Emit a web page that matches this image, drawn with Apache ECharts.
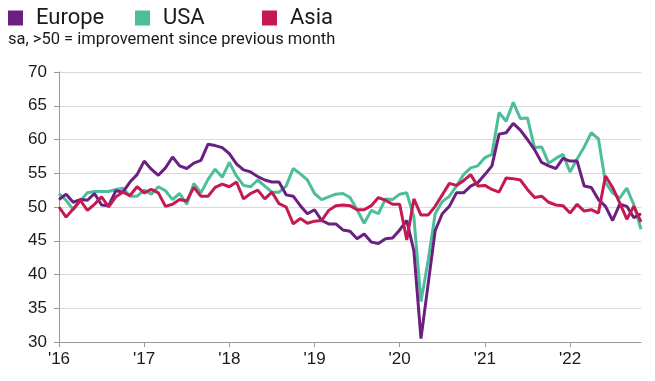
<!DOCTYPE html>
<html>
<head>
<meta charset="utf-8">
<script src="https://cdn.jsdelivr.net/npm/echarts@6/dist/echarts.min.js"></script>
<style>
html,body{margin:0;padding:0;background:#fff;}
#c{width:655px;height:381px;}
</style>
</head>
<body>
<div id="c"></div>
<script>
// Months Jan 2016 .. Nov 2022
var months = [];
for (var y = 2016; y <= 2022; y++) {
  for (var m = 1; m <= 12; m++) {
    if (y === 2022 && m > 11) break;
    months.push(y + '-' + (m < 10 ? '0' + m : m));
  }
}
var yearLabels = ["'16", "'17", "'18", "'19", "'20", "'21", "'22"];

var europe = [
  51.1, 51.9, 50.7, 51.1, 51.0, 52.0, 50.3, 50.2, 52.4, 52.2, 53.7, 54.8,
  56.8, 55.6, 54.7, 55.8, 57.4, 56.1, 55.7, 56.5, 56.9, 59.3, 59.1, 58.8,
  57.9, 56.4, 55.5, 55.2, 54.5, 54.0, 53.7, 53.7, 51.8, 51.6, 50.2, 49.0,
  49.6, 48.0, 47.5, 47.5, 46.6, 46.4, 45.3, 46.0, 44.8, 44.6, 45.3, 45.4,
  46.6, 48.0, 43.5, 30.5, 38.5, 46.5, 49.0, 50.1, 52.1, 52.1, 53.1, 53.6,
  54.8, 56.1, 60.8, 61.0, 62.4, 61.4, 60.0, 58.5, 56.6, 56.1, 55.7, 57.2,
  56.8, 56.8, 53.1, 52.9, 51.1, 50.1, 48.0, 50.4, 50.1, 48.4, 49.0
];
var usa = [
  52.0, 51.0, 49.6, 50.9, 52.1, 52.3, 52.3, 52.3, 52.6, 52.8, 51.6, 51.6,
  52.5, 51.9, 53.0, 52.4, 51.1, 52.0, 50.4, 53.5, 52.1, 54.1, 55.6, 54.4,
  56.6, 54.6, 53.2, 53.0, 54.0, 53.1, 52.2, 52.2, 53.1, 55.7, 54.9, 54.0,
  52.0, 51.1, 51.5, 51.9, 52.0, 51.4, 49.6, 47.6, 49.5, 49.0, 51.2, 51.1,
  51.9, 52.1, 48.5, 36.0, 42.0, 49.0, 50.8, 51.6, 53.1, 54.8, 55.8, 56.1,
  57.3, 57.8, 64.0, 62.7, 65.5, 63.1, 63.2, 58.8, 58.9, 56.5, 57.2, 57.8,
  55.2, 57.1, 58.9, 61.0, 60.1, 53.6, 52.1, 51.3, 52.8, 50.3, 46.7
];
var asia = [
  50.0, 48.5, 49.7, 51.0, 49.5, 50.4, 51.5, 50.0, 51.5, 52.2, 51.7, 53.0,
  52.1, 52.6, 52.1, 50.1, 50.4, 51.1, 50.9, 52.9, 51.6, 51.6, 52.9, 53.4,
  53.0, 53.7, 51.2, 52.0, 52.5, 51.2, 52.2, 50.5, 50.0, 47.5, 48.3, 47.6,
  47.9, 48.0, 49.5, 50.2, 50.3, 50.2, 49.6, 49.6, 50.2, 51.4, 51.0, 50.4,
  50.4, 45.1, 51.2, 48.8, 48.8, 50.1, 51.8, 53.5, 53.2, 53.9, 54.8, 53.1,
  53.2, 52.6, 52.2, 54.3, 54.2, 54.0, 52.6, 51.4, 51.6, 50.7, 50.3, 50.2,
  49.1, 50.4, 49.4, 49.6, 49.1, 54.6, 52.9, 50.6, 48.2, 50.1, 47.8
];

var cEurope = '#6b1f80';
var cUsa = '#4dbd9b';
var cAsia = '#c51a50';

function isJan(i) { return i % 12 === 0; }

var chart = echarts.init(document.getElementById('c'), null, {renderer: 'canvas'});
function legendItem(name, left) {
  return {
    data: [name], left: left, top: 7, orient: 'horizontal',
    icon: 'rect', itemWidth: 15, itemHeight: 15, padding: 0,
    textStyle: { fontFamily: 'Roboto', fontSize: 22, color: '#1a1a1a', padding: [0, 0, 0, 8] },
    selectedMode: false
  };
}
chart.setOption({
  animation: false,
  backgroundColor: '#ffffff',
  title: {
    text: 'sa, >50 = improvement since previous month',
    left: 8, top: 31, padding: 0,
    textStyle: { fontFamily: 'Roboto', fontSize: 16.5, fontWeight: 'normal', color: '#1a1a1a' }
  },
  legend: [legendItem('Europe', 8), legendItem('USA', 135), legendItem('Asia', 262)],
  grid: { left: 59, right: 14, top: 72, bottom: 39, containLabel: false },
  xAxis: {
    type: 'category',
    data: months,
    boundaryGap: false,
    axisLine: { lineStyle: { color: '#9a9a9a', width: 1 } },
    axisTick: { show: true, interval: function (i) { return isJan(i); }, length: 5, lineStyle: { color: '#9a9a9a' } },
    axisLabel: {
      interval: function (i) { return isJan(i); },
      formatter: function (v, i) { return yearLabels[Math.floor(i / 12)]; },
      fontFamily: 'Liberation Sans', fontSize: 17, color: '#1a1a1a', margin: 9
    },
    splitLine: { show: false }
  },
  yAxis: {
    type: 'value', min: 30, max: 70, interval: 5,
    axisLine: { show: true, lineStyle: { color: '#9a9a9a', width: 1 } },
    axisTick: { show: true, length: 5, lineStyle: { color: '#9a9a9a' } },
    axisLabel: { fontFamily: 'Liberation Sans', fontSize: 17, color: '#1a1a1a', margin: 12 },
    splitLine: { show: true, lineStyle: { color: '#d9d9d9', width: 1 } }
  },
  series: [
    { name: 'USA', type: 'line', data: usa, showSymbol: false, symbol: 'none', lineStyle: { width: 3, color: cUsa }, itemStyle: { color: cUsa }, z: 2 },
    { name: 'Europe', type: 'line', data: europe, showSymbol: false, symbol: 'none', lineStyle: { width: 3, color: cEurope }, itemStyle: { color: cEurope }, z: 3 },
    { name: 'Asia', type: 'line', data: asia, showSymbol: false, symbol: 'none', lineStyle: { width: 3, color: cAsia }, itemStyle: { color: cAsia }, z: 4 }
  ]
});
</script>
</body>
</html>
